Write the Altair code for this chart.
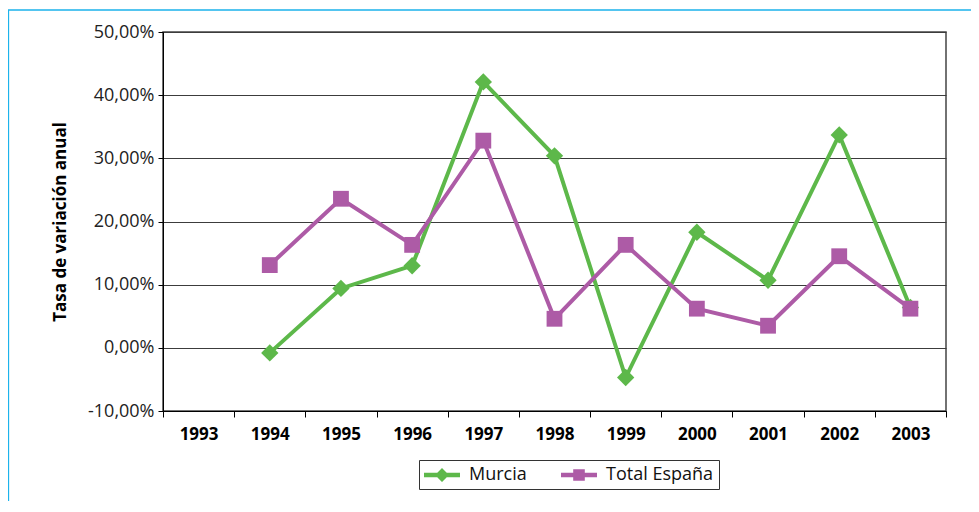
import altair as alt
import pandas as pd

years = ["1993", "1994", "1995", "1996", "1997", "1998", "1999", "2000", "2001", "2002", "2003"]
murcia = [None, -0.8, 9.4, 13.0, 42.1, 30.4, -4.7, 18.3, 10.7, 33.7, 6.4]
espana = [None, 13.1, 23.6, 16.3, 32.8, 4.6, 16.3, 6.2, 3.5, 14.5, 6.2]
series = ["Murcia", "Total España"]
colors = ["#5DB84A", "#AD5BA6"]
shapes = ["diamond", "square"]
y_ticks = [-10, 0, 10, 20, 30, 40, 50]

rows = []
for name, vals in zip(series, [murcia, espana]):
    for yr, v in zip(years, vals):
        if v is not None:
            rows.append({"year": yr, "serie": name, "value": v})
df = pd.DataFrame(rows)

FONT = "Open Sans"

diamond_path = "M-1.8,-0.22H1.8V0.22H-1.8Z M0,-0.7L0.7,0L0,0.7L-0.7,0Z"
square_path = "M-1.8,-0.22H1.8V0.22H-1.8Z M-0.58,-0.58H0.58V0.58H-0.58Z"

x_enc = alt.X(
    "year:N",
    scale=alt.Scale(domain=years, paddingInner=0, paddingOuter=0),
    axis=alt.Axis(
        title=None, tickBand="extent", labelFont=FONT, labelFontSize=17,
        labelFontWeight="bold", labelColor="#000", domainColor="#000",
        tickColor="#000", tickSize=6, labelPadding=9, grid=False, labelAngle=0,
    ),
)
y_enc = alt.Y(
    "value:Q",
    scale=alt.Scale(domain=[-10, 50], nice=False, zero=False),
    axis=alt.Axis(
        title="Tasa de variación anual", values=y_ticks,
        labelExpr="replace(replace(format(datum.value, '.2f'), '.', ','), '\u2212', '-') + '%'",
        labelFont=FONT, labelFontSize=18, labelColor="#222",
        titleFont=FONT, titleFontSize=17, titleFontWeight="bold", titleColor="#000",
        titlePadding=18, domainColor="#000", tickColor="#000", tickSize=5,
        labelPadding=4, grid=True, gridColor="#3C3C3C", gridWidth=1,
    ),
)
shape_expr = "datum.value === 'Murcia' ? '" + diamond_path + "' : '" + square_path + "'"
fill_expr = "datum.value === 'Murcia' ? '" + colors[0] + "' : '" + colors[1] + "'"
color_enc = alt.Color(
    "serie:N",
    scale=alt.Scale(domain=series, range=colors),
    legend=alt.Legend(
        orient="none", legendX=256, legendY=428, direction="horizontal",
        title=None, strokeColor="#333", padding=5, labelFont=FONT,
        labelFontSize=18, labelColor="#111", symbolSize=400, symbolOffset=8,
        labelOffset=17, columnPadding=34,
        symbolType={"expr": shape_expr},
        symbolFillColor={"expr": fill_expr},
        symbolStrokeWidth=0, symbolOpacity=1,
    ),
)

frame = alt.Chart(pd.DataFrame({"a": [0]})).mark_rect(
    fill="transparent", stroke="#1DB3EC", strokeWidth=1.3
).encode(
    x=alt.value(-154.5), x2=alt.value(900), y=alt.value(-22), y2=alt.value(600)
)

base = alt.Chart(df).encode(x=x_enc, y=y_enc, color=color_enc)
lines = base.mark_line(strokeWidth=4)
pt_layers = [
    base.transform_filter(alt.datum.serie == s).mark_point(
        filled=True, opacity=1, size=sz, shape=shp
    )
    for s, shp, sz in zip(series, shapes, [300, 250])
]

chart = alt.layer(frame, lines, *pt_layers).properties(
    width=783, height=379,
    autosize=alt.AutoSizeParams(type="none"),
    padding={"left": 155, "top": 24, "right": 25, "bottom": 90},
).configure_view(stroke="#444", strokeWidth=1.5)

chart.save("out.html", embed_options={"renderer": "svg", "actions": False})
